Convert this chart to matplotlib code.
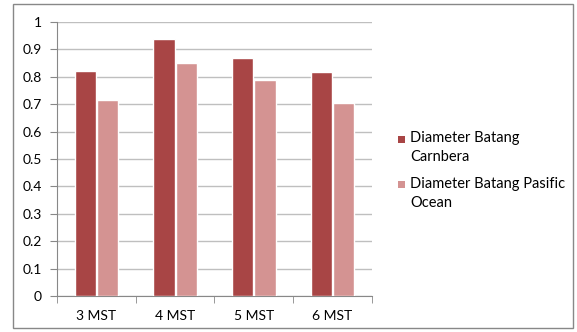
import matplotlib.pyplot as plt
import matplotlib.patches as mpatches
import numpy as np

plt.rcParams['font.family'] = ['Lato', 'DejaVu Sans']

kategori = ['3 MST', '4 MST', '5 MST', '6 MST']
carnbera = [0.82, 0.938, 0.867, 0.819]
pasific = [0.715, 0.852, 0.79, 0.706]
label_seri = ['Diameter Batang\nCarnbera', 'Diameter Batang Pasific\nOcean']
warna = ['#A84545', '#D49392']

W, H = 577, 332
fig = plt.figure(figsize=(W / 100, H / 100), dpi=100)
ax = fig.add_axes([57 / W, 1 - 296 / H, (372 - 57) / W, (296 - 22) / H])

# bingkai luar
fig.patches.append(mpatches.Rectangle((13 / W, 4 / H), (573 - 13) / W, (328 - 4) / H,
                                      transform=fig.transFigure, fill=False,
                                      edgecolor='#888888', linewidth=1))

x = np.arange(len(kategori))
lebar = 0.27
ax.bar(x - lebar / 2 - 0.005, carnbera, lebar, color=warna[0], edgecolor='white', linewidth=1, zorder=3)
ax.bar(x + lebar / 2 + 0.005, pasific, lebar, color=warna[1], edgecolor='white', linewidth=1, zorder=3)

ax.set_xlim(-0.5, 3.5)
ax.set_ylim(0, 1)
ax.set_yticks(np.arange(0, 1.01, 0.1))
ax.set_yticklabels(['0', '0.1', '0.2', '0.3', '0.4', '0.5', '0.6', '0.7', '0.8', '0.9', '1'])
ax.yaxis.grid(True, color='#BFBFBF', linewidth=1, zorder=0)
ax.set_axisbelow(True)

ax.set_xticks(x)
ax.set_xticklabels(kategori)
ax.set_xticks(np.arange(-0.5, 3.6, 1), minor=True)
ax.tick_params(axis='x', which='major', length=0, pad=10, labelsize=10)
ax.tick_params(axis='x', which='minor', length=5, color='#888888')
ax.tick_params(axis='y', length=5, color='#888888', labelsize=10, pad=6)

for s in ['top', 'right']:
    ax.spines[s].set_visible(False)
for s in ['left', 'bottom']:
    ax.spines[s].set_color('#888888')

# legenda manual: kotak sejajar dengan baris pertama label
for i, (lab, c) in enumerate(zip(label_seri, warna)):
    y0 = 139 + i * 46
    fig.patches.append(mpatches.Rectangle((398 / W, 1 - (y0 + 3.5) / H), 7 / W, 7 / H,
                                          transform=fig.transFigure, facecolor=c,
                                          edgecolor='none'))
    fig.text(410 / W, 1 - (y0 - 8) / H, lab, fontsize=10.5, va='top', ha='left',
             linespacing=1.45)

fig.savefig('out.png', dpi=100)
